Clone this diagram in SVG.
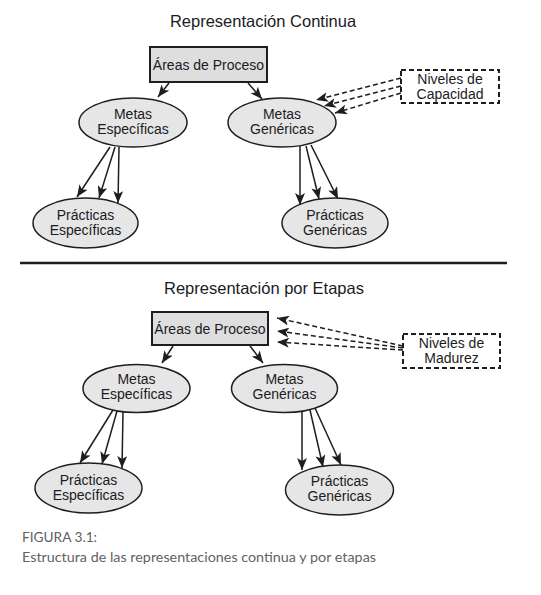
<svg xmlns="http://www.w3.org/2000/svg" width="541" height="595" viewBox="0 0 541 595">
<defs>
<style>
.t{font-family:"Liberation Sans",Arial,sans-serif;font-size:14px;fill:#1b1b24;text-anchor:middle}
.title{font-family:"Liberation Sans",Arial,sans-serif;font-size:16.5px;fill:#1b1b24;text-anchor:middle}
.box{fill:#dedede;stroke:#1e1e1e;stroke-width:2}
.dbox{fill:#fff;stroke:#1e1e1e;stroke-width:2;stroke-dasharray:5 3}
.ell{fill:#e6e6e6;stroke:#1e1e1e;stroke-width:1.5}
.a{stroke:#1e1e1e;stroke-width:1.5;fill:none;marker-end:url(#ah)}
.d{stroke:#1e1e1e;stroke-width:1.5;fill:none;stroke-dasharray:5 3;marker-end:url(#ah)}
.cap{font-family:Lato,"Open Sans",sans-serif;font-size:14px;fill:#626262}
</style>
<marker id="ah" viewBox="0 0 12 10" refX="12" refY="5" markerWidth="12" markerHeight="10" markerUnits="userSpaceOnUse" orient="auto">
<path d="M0,0 L12,5 L0,10 L3,5 z" fill="#1e1e1e"/>
</marker>
</defs>
<rect width="541" height="595" fill="#fff"/>

<text class="title" x="263" y="27">Representación Continua</text>
<text class="title" x="264" y="294">Representación por Etapas</text>
<line x1="20" y1="263" x2="507" y2="263" stroke="#1e1e1e" stroke-width="2.5"/>

<g id="connectors">
<line class="a" x1="169" y1="83" x2="158" y2="97"/>
<line class="a" x1="248" y1="83" x2="262" y2="99"/>
<line class="d" x1="401" y1="78" x2="316" y2="100"/>
<line class="d" x1="401" y1="86" x2="324" y2="106"/>
<line class="d" x1="401" y1="93" x2="335" y2="113"/>
<line class="a" x1="110" y1="147" x2="77" y2="197"/>
<line class="a" x1="115" y1="147" x2="99" y2="198"/>
<line class="a" x1="119" y1="147" x2="118" y2="203"/>
<line class="a" x1="300" y1="146" x2="300" y2="205"/>
<line class="a" x1="306" y1="146" x2="319" y2="199"/>
<line class="a" x1="311" y1="145" x2="338" y2="199"/>

<line class="a" x1="173" y1="346" x2="162" y2="363"/>
<line class="a" x1="250" y1="346" x2="263" y2="363"/>
<line class="d" x1="403" y1="346" x2="277" y2="318"/>
<line class="d" x1="403" y1="348" x2="277" y2="331"/>
<line class="d" x1="403" y1="350" x2="277" y2="342"/>
<line class="a" x1="113" y1="410" x2="80" y2="463"/>
<line class="a" x1="117" y1="411" x2="102" y2="464"/>
<line class="a" x1="123" y1="412" x2="122" y2="468"/>
<line class="a" x1="302" y1="411" x2="302" y2="470"/>
<line class="a" x1="310" y1="410" x2="323" y2="467"/>
<line class="a" x1="315" y1="408" x2="341" y2="465"/>
</g>

<g id="areas-top">
<rect class="box" x="150" y="47" width="117" height="35"/>
<text class="t" x="208.5" y="70">Áreas de Proceso</text>
</g>
<g id="metas-esp-top">
<ellipse class="ell" cx="133" cy="122.5" rx="54" ry="24.5"/>
<text class="t" x="133" y="119">Metas</text>
<text class="t" x="133" y="134">Específicas</text>
</g>
<g id="metas-gen-top">
<ellipse class="ell" cx="282" cy="122.5" rx="54" ry="24.5"/>
<text class="t" x="282" y="119">Metas</text>
<text class="t" x="282" y="134">Genéricas</text>
</g>
<g id="capacidad">
<rect class="dbox" x="401" y="70" width="98" height="33"/>
<text class="t" x="450" y="84">Niveles de</text>
<text class="t" x="450" y="99">Capacidad</text>
</g>
<g id="practicas-esp-top">
<ellipse class="ell" cx="85.5" cy="223" rx="52.5" ry="25"/>
<text class="t" x="85.5" y="220">Prácticas</text>
<text class="t" x="85.5" y="235">Específicas</text>
</g>
<g id="practicas-gen-top">
<ellipse class="ell" cx="335" cy="223" rx="53" ry="25"/>
<text class="t" x="335" y="220">Prácticas</text>
<text class="t" x="335" y="235">Genéricas</text>
</g>

<g id="areas-bottom">
<rect class="box" x="152" y="312" width="116" height="33"/>
<text class="t" x="210" y="333.5">Áreas de Proceso</text>
</g>
<g id="madurez">
<rect class="dbox" x="403" y="334" width="97" height="34"/>
<text class="t" x="451.5" y="348">Niveles de</text>
<text class="t" x="451.5" y="363">Madurez</text>
</g>
<g id="metas-esp-bottom">
<ellipse class="ell" cx="136.5" cy="388.5" rx="53.5" ry="24"/>
<text class="t" x="136.5" y="384">Metas</text>
<text class="t" x="136.5" y="399">Específicas</text>
</g>
<g id="metas-gen-bottom">
<ellipse class="ell" cx="284.5" cy="388.5" rx="53" ry="24"/>
<text class="t" x="284.5" y="384">Metas</text>
<text class="t" x="284.5" y="399">Genéricas</text>
</g>
<g id="practicas-esp-bottom">
<ellipse class="ell" cx="88.5" cy="488" rx="53.5" ry="25"/>
<text class="t" x="88.5" y="485">Prácticas</text>
<text class="t" x="88.5" y="500">Específicas</text>
</g>
<g id="practicas-gen-bottom">
<ellipse class="ell" cx="339.5" cy="490" rx="54" ry="25"/>
<text class="t" x="339.5" y="486">Prácticas</text>
<text class="t" x="339.5" y="501">Genéricas</text>
</g>

<text class="cap" x="22" y="542" textLength="75" lengthAdjust="spacingAndGlyphs">FIGURA 3.1:</text>
<text class="cap" x="22" y="562" textLength="354" lengthAdjust="spacingAndGlyphs">Estructura de las representaciones continua y por etapas</text>
</svg>
